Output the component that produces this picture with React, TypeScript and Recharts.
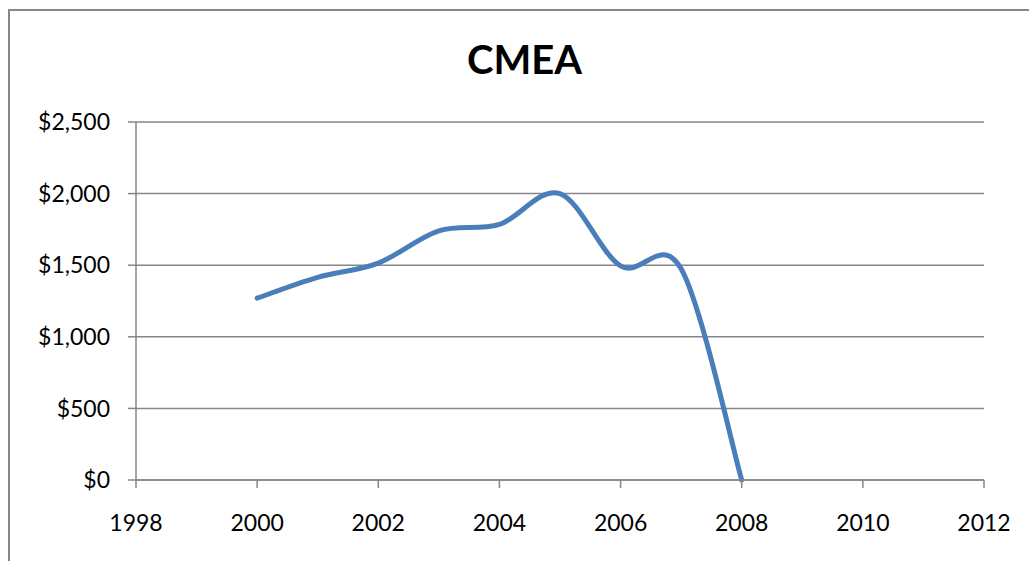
import { LineChart, Line, XAxis, YAxis, CartesianGrid } from 'recharts';

const years = [2000, 2001, 2002, 2003, 2004, 2005, 2006, 2007, 2008];
const cmeaValues = [1270, 1415, 1515, 1740, 1785, 2000, 1495, 1475, 0];
const xTicks = [1998, 2000, 2002, 2004, 2006, 2008, 2010, 2012];
const yTicks = [0, 500, 1000, 1500, 2000, 2500];

const data = years.map((year, i) => ({ year, value: cmeaValues[i] }));

const FONT = "Lato, 'Open Sans', sans-serif";
const GRAY = '#868686';

// Excel-like smoothed line: Catmull-Rom through every point
const smoothCurve = (context: any) => {
  let pts: [number, number][] = [];
  return {
    areaStart() {},
    areaEnd() {},
    lineStart() {
      pts = [];
    },
    lineEnd() {
      if (!pts.length) return;
      context.moveTo(pts[0][0], pts[0][1]);
      for (let i = 0; i < pts.length - 1; i++) {
        const p0 = pts[i - 1] || pts[i];
        const p1 = pts[i];
        const p2 = pts[i + 1];
        const p3 = pts[i + 2] || p2;
        context.bezierCurveTo(
          p1[0] + (p2[0] - p0[0]) / 6,
          p1[1] + (p2[1] - p0[1]) / 6,
          p2[0] - (p3[0] - p1[0]) / 6,
          p2[1] - (p3[1] - p1[1]) / 6,
          p2[0],
          p2[1]
        );
      }
    },
    point(x: number, y: number) {
      pts.push([+x, +y]);
    },
  };
};

const formatDollar = (v: number) => `$${v.toLocaleString('en-US')}`;

export default function App() {
  return (
    <div style={{ position: 'absolute', left: 0, top: 0, width: 1029, height: 561, overflow: 'hidden', background: '#fff' }}>
      <div
        style={{
          position: 'absolute',
          left: 8,
          top: 9,
          width: 1100,
          height: 600,
          borderLeft: `2px solid ${GRAY}`,
          borderTop: `2px solid ${GRAY}`,
        }}
      />
      <div
        style={{
          position: 'absolute',
          left: 0,
          top: 39,
          width: 1049,
          textAlign: 'center',
          fontFamily: FONT,
          fontWeight: 700,
          fontSize: 40,
          lineHeight: 1,
          color: '#000',
        }}
      >
        CMEA
      </div>
      <div style={{ position: 'absolute', left: 0, top: 0 }}>
        <LineChart width={1029} height={561} data={data} margin={{ top: 122, right: 45, left: 0, bottom: 31 }}>
          <CartesianGrid vertical={false} stroke={GRAY} strokeWidth={1.5} />
          <XAxis
            dataKey="year"
            type="number"
            domain={[1998, 2012]}
            ticks={xTicks}
            height={50}
            tickSize={8}
            tickMargin={27}
            stroke={GRAY}
            strokeWidth={1.5}
            tick={{ fontSize: 23, fill: '#000', fontFamily: FONT }}
          />
          <YAxis
            domain={[0, 2500]}
            ticks={yTicks}
            width={136}
            tickSize={8}
            tickMargin={18}
            stroke={GRAY}
            strokeWidth={1.5}
            tickFormatter={formatDollar}
            tick={{ fontSize: 23, fill: '#000', fontFamily: FONT }}
          />
          <Line
            dataKey="value"
            type={smoothCurve as any}
            stroke="#4a7ebb"
            strokeWidth={5}
            strokeLinecap="round"
            dot={false}
            isAnimationActive={false}
          />
        </LineChart>
      </div>
    </div>
  );
}
